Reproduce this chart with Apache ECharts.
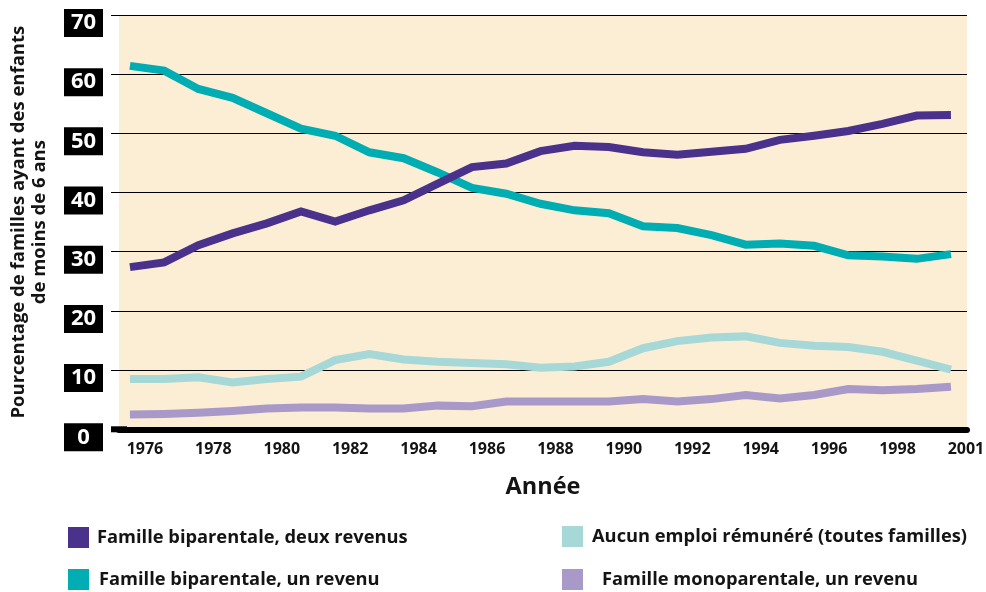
<!DOCTYPE html>
<html>
<head>
<meta charset="utf-8">
<script src="https://cdn.jsdelivr.net/npm/echarts@6/dist/echarts.min.js"></script>
<style>
html,body{margin:0;padding:0;background:#fff;}
#chart{width:986px;height:592px;}
</style>
</head>
<body>
<div id="chart"></div>
<script>
// ---- data ----
const years = [1976,1977,1978,1979,1980,1981,1982,1983,1984,1985,1986,1987,1988,1989,1990,1991,1992,1993,1994,1995,1996,1997,1998,1999,2000];
const deuxRevenus = [27.4,28.2,31.1,33.1,34.8,36.8,35.1,37.0,38.7,41.5,44.3,44.9,47.0,47.9,47.7,46.8,46.4,46.9,47.4,48.9,49.6,50.4,51.6,53.0,53.1];
const unRevenu = [61.4,60.6,57.5,56.0,53.4,50.8,49.6,46.8,45.8,43.4,40.8,39.8,38.1,37.0,36.5,34.3,34.0,32.8,31.2,31.4,31.0,29.4,29.2,28.8,29.6];
const aucunEmploi = [8.5,8.5,8.8,7.9,8.5,8.9,11.7,12.7,11.8,11.4,11.2,11.0,10.4,10.6,11.4,13.7,14.9,15.5,15.7,14.6,14.1,13.9,13.1,11.6,10.1];
const monoparentale = [2.5,2.6,2.8,3.1,3.5,3.7,3.7,3.5,3.5,4.0,3.9,4.7,4.7,4.7,4.7,5.1,4.7,5.1,5.8,5.2,5.8,6.8,6.6,6.8,7.2];
const xTickYears = [1976,1978,1980,1982,1984,1986,1988,1990,1992,1994,1996,1998,2000];
const xTickLabels = ['1976','1978','1980','1982','1984','1986','1988','1990','1992','1994','1996','1998','2001'];
const yTicks = [0,10,20,30,40,50,60,70];
const seriesNames = [
  'Famille biparentale, deux revenus',
  'Famille biparentale, un revenu',
  'Aucun emploi rémunéré (toutes familles)',
  'Famille monoparentale, un revenu'
];
const colors = ['#4A318C','#00ADB2','#A6D8D8','#A899C8'];

const FONT = '"Open Sans", "DejaVu Sans", sans-serif';
const pairs = arr => years.map((y,i)=>[y, arr[i]]);

const chart = echarts.init(document.getElementById('chart'), null, {renderer:'canvas'});

function mkSeries(idx, arr){
  return {
    name: seriesNames[idx], type:'line', data: pairs(arr),
    symbol:'none', color: colors[idx],
    lineStyle:{width:8, color: colors[idx], cap:'butt', join:'miter'},
    itemStyle:{color: colors[idx]},
    emphasis:{disabled:true}, animation:false
  };
}

function mkLegend(idx, left, top, padLeft){
  return {
    data:[{name: seriesNames[idx], icon:'rect', itemStyle:{color: colors[idx]}}],
    left:left, top:top, padding:0, itemWidth:21, itemHeight:21,
    selectedMode:false,
    textStyle:{fontFamily:FONT, fontSize:18.3, fontWeight:'bold', color:'#141414', padding:[4,0,0,padLeft]}
  };
}

chart.setOption({
  animation:false,
  backgroundColor:'#fff',
  grid:{left:119, right:19, top:15, bottom:162.7, show:true, backgroundColor:'#FCEED5', borderWidth:0,
        outerBoundsMode:'none', containLabel:false},
  legend:[
    mkLegend(0, 68, 527, 3),
    mkLegend(1, 68, 569, 5),
    mkLegend(2, 562, 526, 4),
    mkLegend(3, 562, 569, 14)
  ],
  xAxis:{
    type:'value', min:1975.68, max:2000.47,
    name:'Année', nameLocation:'middle', nameGap:46,
    nameTextStyle:{fontFamily:FONT, fontSize:23.5, fontWeight:'bold', color:'#141414'},
    axisLine:{show:true, onZero:false, lineStyle:{color:'#000', width:6},
      symbol:['rect','none'], symbolSize:[6,16], symbolOffset:[0,0]},
    axisTick:{show:false},
    splitLine:{show:false},
    axisLabel:{
      customValues: xTickYears,
      formatter: v => { const i = xTickYears.indexOf(Math.round(v)); return i>=0 ? xTickLabels[i] : ''; },
      fontFamily:FONT, fontSize:16, fontWeight:'bold', color:'#141414',
      margin:12, padding:[0,0,0,30]
    }
  },
  yAxis:{
    type:'value', min:0, max:70, interval:10,
    name:'Pourcentage de familles ayant des enfants\nde moins de 6 ans',
    nameLocation:'middle', nameGap:69,
    nameTextStyle:{fontFamily:FONT, fontSize:18.5, fontWeight:'bold', color:'#141414', lineHeight:21},
    axisLine:{show:false},
    axisTick:{show:true, inside:false, length:8, lineStyle:{color:'#000', width:1}},
    splitLine:{show:true, lineStyle:{color:'#000', width:1}},
    axisLabel:{
      margin:16,
      formatter: v => '{s| }\n{b|' + v + '}',
      rich:{
        s:{height:16, lineHeight:16, fontSize:10},
        b:{height:28, lineHeight:28, width:39, align:'center', backgroundColor:'#000',
           color:'#fff', fontSize:22, fontWeight:'bold', fontFamily:FONT}
      }
    }
  },
  series:[
    mkSeries(3, monoparentale),
    mkSeries(2, aucunEmploi),
    mkSeries(1, unRevenu),
    mkSeries(0, deuxRevenus)
  ]
});
</script>
</body>
</html>
